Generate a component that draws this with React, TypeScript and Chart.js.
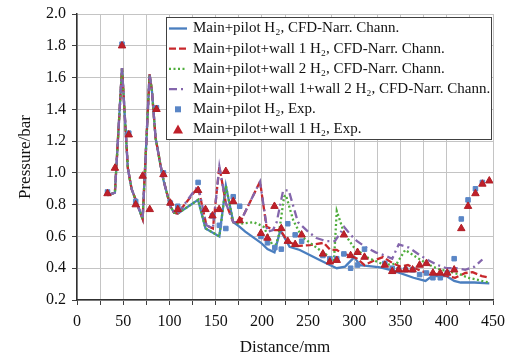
import React, { useEffect, useRef } from "react";
import { Chart, registerables } from "chart.js";

Chart.register(...registerables);

// Shared CFD prefix (all four simulations coincide up to ~110 mm)
const commonX = [33, 41, 48.7, 55, 59, 66, 71, 78.5, 81, 85, 90, 93.5, 101, 105, 109];
const commonY = [0.86, 0.875, 1.66, 1.03, 0.9, 0.79, 0.71, 1.62, 1.52, 1.22, 1.06, 0.955, 0.79, 0.75, 0.745];

// Main+pilot H2, CFD
const blueX = [131, 139, 154, 161, 169, 176, 182, 199, 206, 213.6, 220, 230, 241, 263, 273.5, 281, 290, 300, 306, 321, 328, 342, 364, 377, 384, 400, 408, 415, 430, 446];
const blueY = [0.83, 0.65, 0.6, 0.92, 0.69, 0.66, 0.63, 0.56, 0.52, 0.5, 0.64, 0.535, 0.515, 0.45, 0.42, 0.4, 0.41, 0.47, 0.42, 0.41, 0.405, 0.385, 0.34, 0.32, 0.35, 0.35, 0.32, 0.31, 0.31, 0.305];

// Main+pilot+wall 1 H2, CFD
const redX = [131, 140, 147, 154, 161, 169, 176.5, 198, 205, 214, 220, 228, 238, 252, 267, 274, 281, 288, 296, 303, 311, 322, 331, 342, 350, 358, 365, 378, 393, 409, 420, 428, 438, 446];
const redY = [0.91, 0.67, 0.65, 1.04, 0.81, 0.69, 0.69, 0.945, 0.66, 0.64, 0.64, 0.57, 0.54, 0.545, 0.56, 0.515, 0.515, 0.49, 0.48, 0.46, 0.42, 0.45, 0.47, 0.43, 0.41, 0.42, 0.4, 0.37, 0.36, 0.34, 0.37, 0.375, 0.35, 0.34];

// Main+pilot+wall 2 H2, CFD
const greenX = [131, 139, 154, 161, 169, 176, 191, 199, 202, 207, 211, 214, 218, 224, 226, 234, 243, 252, 266, 273.5, 278, 281, 289, 299, 313, 333, 346, 355, 367, 378, 385, 393, 400, 408, 415, 423, 431, 438, 446];
const greenY = [0.83, 0.65, 0.6, 0.92, 0.69, 0.68, 0.69, 0.67, 0.66, 0.6, 0.55, 0.53, 0.6, 0.85, 0.86, 0.7, 0.6, 0.56, 0.5, 0.47, 0.45, 0.76, 0.62, 0.535, 0.47, 0.42, 0.43, 0.515, 0.47, 0.43, 0.41, 0.39, 0.385, 0.37, 0.36, 0.34, 0.33, 0.32, 0.31];

// Main+pilot+wall 1+wall 2 H2, CFD
const purpleX = [131, 140, 147, 154, 161, 169, 176.5, 198, 206, 212, 216, 223, 229, 239, 250, 259, 270, 279, 289, 296, 303, 313, 323, 333, 341, 348, 359, 369, 380, 390, 400, 410, 420, 430, 438.5];
const purpleY = [0.92, 0.67, 0.65, 1.04, 0.81, 0.69, 0.69, 0.945, 0.63, 0.64, 0.69, 0.89, 0.89, 0.69, 0.63, 0.59, 0.57, 0.57, 0.66, 0.61, 0.57, 0.53, 0.5, 0.48, 0.46, 0.55, 0.53, 0.49, 0.45, 0.42, 0.4, 0.4, 0.39, 0.41, 0.455];

// Main+pilot H2, Exp.
const expSqX = [33, 48.7, 56, 63.5, 86, 93.5, 101, 109, 131, 146.5, 154, 161, 169, 176, 199, 206, 214, 221, 228, 236, 243, 266, 273.5, 281, 288.7, 296, 303.5, 311, 333, 341, 348, 355.5, 363, 370.6, 378, 385, 393, 400.5, 408, 415.7, 423, 431, 438.5];
const expSqY = [0.88, 1.81, 1.25, 0.82, 1.41, 1.0, 0.81, 0.79, 0.94, 0.73, 0.67, 0.65, 0.85, 0.79, 0.6, 0.56, 0.53, 0.52, 0.68, 0.61, 0.57, 0.48, 0.46, 0.46, 0.49, 0.4, 0.42, 0.52, 0.43, 0.4, 0.39, 0.39, 0.39, 0.36, 0.37, 0.34, 0.34, 0.37, 0.46, 0.71, 0.83, 0.9, 0.94];

// Main+pilot+wall 1 H2, Exp.
const expTriX = [33, 41, 48.7, 56, 63.5, 71, 78.7, 86, 93.5, 101, 109, 131, 139, 146.5, 153.7, 161, 169, 176, 199, 206, 213.6, 221, 228, 236, 243, 266, 273.5, 281, 288.7, 296, 303.5, 311, 333, 341, 348, 355.5, 363, 370.6, 378, 385, 393, 400.5, 408, 415.7, 423, 431, 438.5, 446];
const expTriY = [0.87, 1.03, 1.8, 1.24, 0.8, 0.98, 0.77, 1.4, 0.99, 0.81, 0.77, 0.89, 0.77, 0.73, 0.77, 1.01, 0.82, 0.7, 0.62, 0.59, 0.79, 0.65, 0.57, 0.55, 0.61, 0.49, 0.44, 0.45, 0.61, 0.48, 0.5, 0.47, 0.42, 0.38, 0.39, 0.39, 0.39, 0.42, 0.43, 0.37, 0.37, 0.37, 0.39, 0.65, 0.79, 0.87, 0.93, 0.95];

const xTicks = { min: 0, max: 450, step: 25, labelStep: 50 };
const yTicks = { min: 0.2, max: 2.0, step: 0.2 };

const labels = [
  "Main+pilot H₂, CFD-Narr. Chann.",
  "Main+pilot+wall 1 H₂, CFD-Narr. Chann.",
  "Main+pilot+wall 2 H₂, CFD-Narr. Chann.",
  "Main+pilot+wall 1+wall 2 H₂, CFD-Narr. Chann.",
  "Main+pilot H₂, Exp.",
  "Main+pilot+wall 1 H₂, Exp.",
];

const zip = (xs: number[], ys: number[]) => xs.map((x, i) => ({ x, y: ys[i] }));

const SERIF = '"Liberation Serif", "Times New Roman", "DejaVu Serif", serif';

const legendPlugin = {
  id: "boxLegend",
  afterDraw(chart: any) {
    const ctx = chart.ctx as CanvasRenderingContext2D;
    const x0 = 166, y0 = 17, w = 325, h = 122;
    ctx.save();
    ctx.fillStyle = "#ffffff";
    ctx.fillRect(x0, y0, w, h);
    ctx.strokeStyle = "#404040";
    ctx.lineWidth = 1;
    ctx.strokeRect(x0 + 0.5, y0 + 0.5, w, h);
    chart.data.datasets.forEach((ds: any, i: number) => {
      const cy = y0 + 11.5 + i * 20.2;
      if (ds.showLine !== false) {
        ctx.beginPath();
        ctx.setLineDash(ds.borderDash || []);
        ctx.strokeStyle = ds.borderColor;
        ctx.lineWidth = ds.borderWidth;
        ctx.moveTo(169, cy);
        ctx.lineTo(187, cy);
        ctx.stroke();
        ctx.setLineDash([]);
      } else if (ds.pointStyle === "rect") {
        ctx.fillStyle = ds.pointBackgroundColor;
        ctx.fillRect(175, cy - 3, 6, 6);
      } else {
        ctx.fillStyle = ds.pointBackgroundColor;
        ctx.beginPath();
        ctx.moveTo(178, cy - 5);
        ctx.lineTo(183, cy + 4);
        ctx.lineTo(173, cy + 4);
        ctx.closePath();
        ctx.fill();
      }
      ctx.fillStyle = "#111111";
      ctx.font = `15px ${SERIF}`;
      ctx.textBaseline = "middle";
      ctx.textAlign = "left";
      ctx.fillText(ds.label, 193, cy);
    });
    ctx.restore();
  },
};

export default function App() {
  const ref = useRef<HTMLCanvasElement | null>(null);

  useEffect(() => {
    if (!ref.current) return;
    const lineDs = (label: string, xs: number[], ys: number[], color: string, dash: number[], order: number) => ({
      label,
      data: zip(commonX.concat(xs), commonY.concat(ys)),
      borderColor: color,
      backgroundColor: color,
      borderWidth: 2.3,
      borderDash: dash,
      pointRadius: 0,
      tension: 0,
      fill: false,
      order,
    });
    const chart = new Chart(ref.current, {
      type: "line",
      data: {
        datasets: [
          lineDs(labels[0], blueX, blueY, "#4a7ebf", [], 5),
          lineDs(labels[1], redX, redY, "#c8282c", [7, 3], 4),
          lineDs(labels[2], greenX, greenY, "#4fad3c", [2, 2.5], 3),
          lineDs(labels[3], purpleX, purpleY, "#8466ac", [8, 4, 2, 4], 2),
          {
            label: labels[4],
            data: zip(expSqX, expSqY),
            showLine: false,
            pointStyle: "rect",
            pointRadius: 3.2,
            pointBackgroundColor: "#5a86c6",
            pointBorderColor: "#5a86c6",
            borderColor: "#5a86c6",
            backgroundColor: "#5a86c6",
            order: 1,
          },
          {
            label: labels[5],
            data: zip(expTriX, expTriY),
            showLine: false,
            pointStyle: "triangle",
            pointRadius: 4.3,
            pointBackgroundColor: "#c0202a",
            pointBorderColor: "#b01e26",
            borderColor: "#c0202a",
            backgroundColor: "#c0202a",
            order: 0,
          },
        ] as any,
      },
      options: {
        animation: false,
        responsive: false,
        devicePixelRatio: 1,
        layout: { padding: { top: 14, right: 14, left: 0, bottom: 0 } },
        plugins: { legend: { display: false }, tooltip: { enabled: false } },
        scales: {
          x: {
            type: "linear",
            min: xTicks.min,
            max: xTicks.max,
            afterFit: (s: any) => { s.height = 59; s.paddingRight = 0; s.paddingLeft = 0; },
            ticks: {
              stepSize: xTicks.step,
              autoSkip: false,
              maxRotation: 0,
              padding: 7,
              color: "#111111",
              font: { family: SERIF, size: 16 },
              callback: (v: any) => (Number(v) % xTicks.labelStep === 0 ? String(v) : ""),
            },
            grid: { color: "#c4c4c4", lineWidth: 1, tickLength: 5, tickColor: "#404040" },
            border: { color: "#303030", width: 1.5 },
            title: {
              display: true,
              text: "Distance/mm",
              color: "#111111",
              font: { family: SERIF, size: 17 },
              padding: { top: 0, bottom: 1 },
            },
          },
          y: {
            type: "linear",
            min: yTicks.min,
            max: yTicks.max,
            afterFit: (s: any) => { s.width = 77; s.paddingTop = 0; s.paddingBottom = 0; },
            ticks: {
              stepSize: yTicks.step,
              padding: 6,
              color: "#111111",
              font: { family: SERIF, size: 16 },
              callback: (v: any) => Number(v).toFixed(1),
            },
            grid: { color: "#c4c4c4", lineWidth: 1, tickLength: 5, tickColor: "#404040" },
            border: { color: "#303030", width: 1.5 },
            title: {
              display: true,
              text: "Pressure/bar",
              color: "#111111",
              font: { family: SERIF, size: 17 },
              padding: { top: 15, bottom: 0 },
            },
          },
        },
      } as any,
      plugins: [legendPlugin],
    });
    return () => chart.destroy();
  }, []);

  return (
    <div style={{ position: "fixed", left: 0, top: 0, width: 507, height: 359, background: "#ffffff" }}>
      <canvas ref={ref} width={507} height={359} style={{ width: 507, height: 359, display: "block" }} />
    </div>
  );
}
